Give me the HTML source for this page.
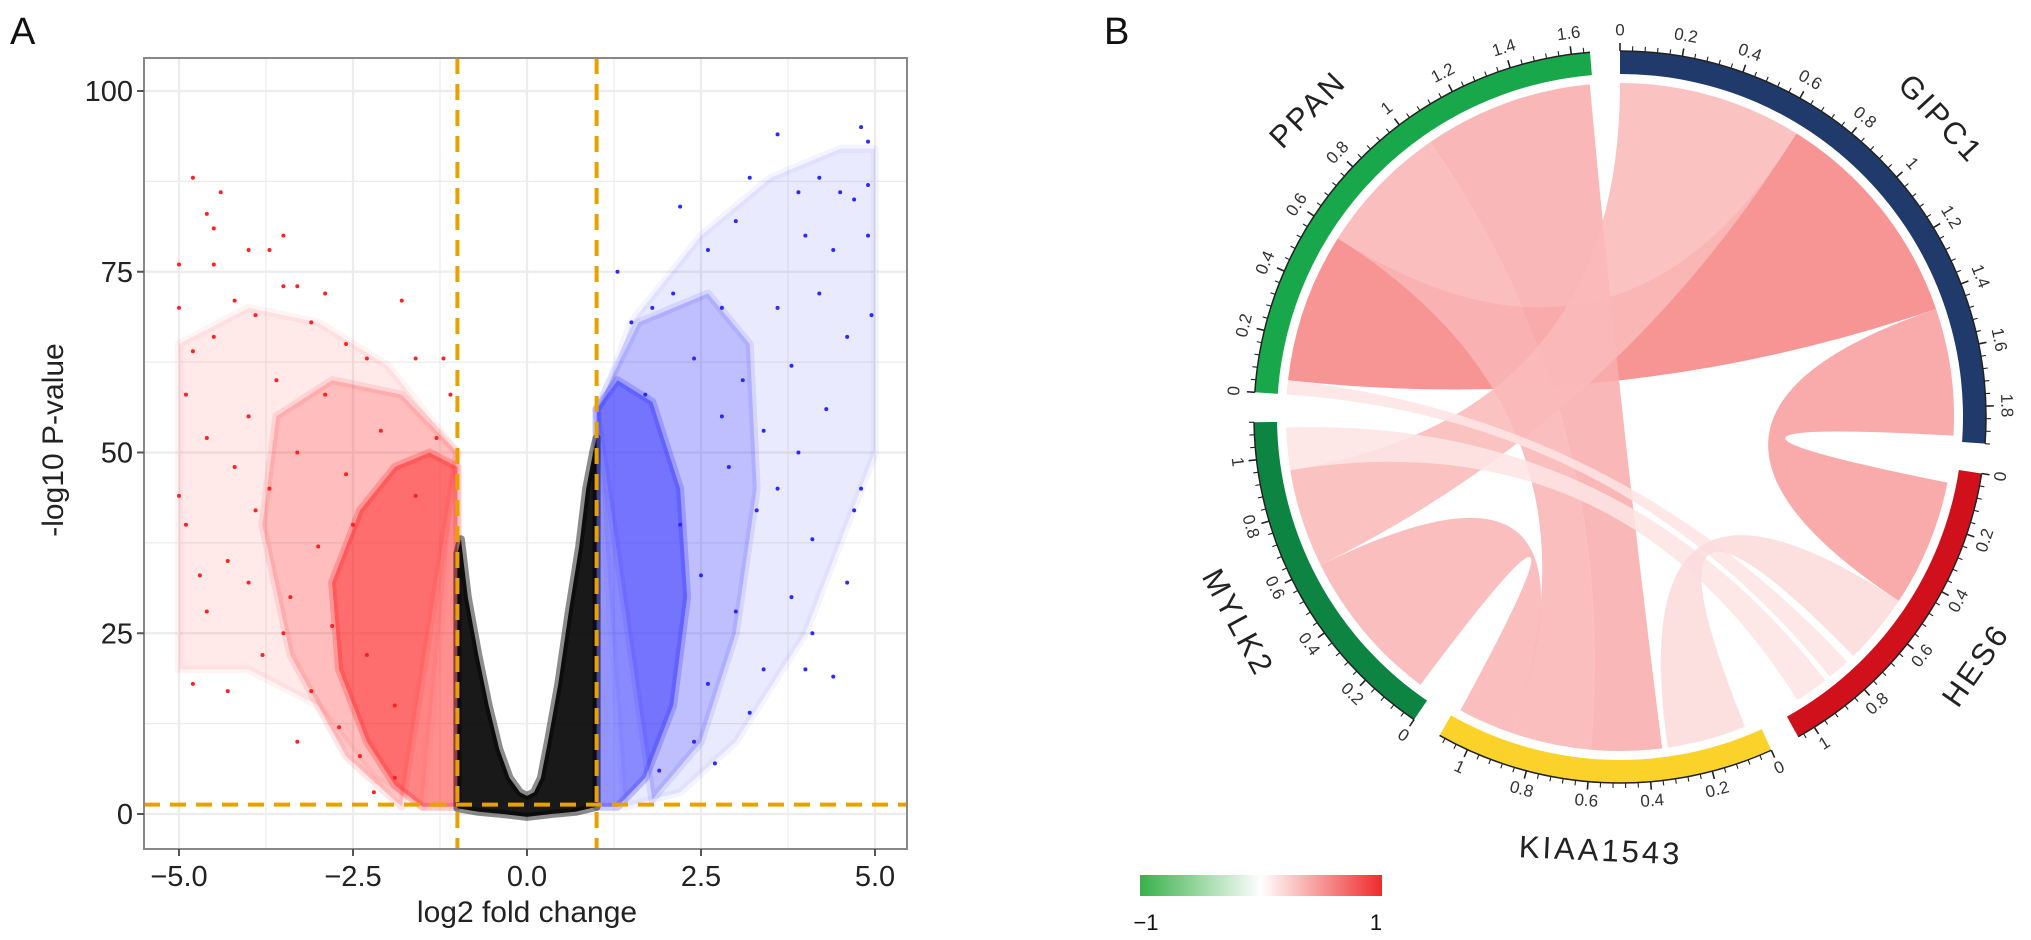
<!DOCTYPE html>
<html><head><meta charset="utf-8"><style>
html,body{margin:0;padding:0;background:#fff;}
svg{display:block;font-family:"Liberation Sans",Arial,sans-serif;}
</style></head><body>
<svg id="fig" width="2031" height="940" viewBox="0 0 2031 940" xmlns="http://www.w3.org/2000/svg">
  <text x="10" y="44" font-size="38" fill="#111">A</text>
  <text x="1104" y="44" font-size="38" fill="#111">B</text>
  <g id="volcano"></g>
  <g id="chord"></g>
  <g id="legend">
    <defs><linearGradient id="lg" x1="0" x2="1" y1="0" y2="0">
      <stop offset="0" stop-color="#38b04a"/><stop offset="0.5" stop-color="#ffffff"/><stop offset="1" stop-color="#ee2c2c"/>
    </linearGradient></defs>
    <rect x="1140" y="875" width="242" height="21" fill="url(#lg)"/>
    <text x="1146" y="930" font-size="22" text-anchor="middle" fill="#111">−1</text>
    <text x="1376" y="930" font-size="22" text-anchor="middle" fill="#111">1</text>
  </g>
</svg>
<script>
// ---------- Volcano data ----------
const xTicks = [-5.0, -2.5, 0.0, 2.5, 5.0];
const xTickLabels = ["−5.0", "−2.5", "0.0", "2.5", "5.0"];
const yTicks = [0, 25, 50, 75, 100];
const yTickLabels = ["0", "25", "50", "75", "100"];
const fcThreshold = 1;
const pThreshold = 1.3;
// envelope of the dense non-significant (black) cloud
const blackCloudX = [-1.0,-1.0,-0.95,-0.85,-0.7,-0.55,-0.4,-0.25,-0.1,0,0.1,0.2,0.3,0.45,0.6,0.75,0.85,0.95,1.0,1.0,0.7,0.35,0,-0.35,-0.7];
const blackCloudY = [0.8,36,38,30,22,15,9,5,3,2.5,3,5,10,18,28,37,45,50,52,1,0.3,0,-0.4,0,0.3];
// significant clusters (dense core, mid-density halo, sparse spread)
const redDenseX = [-1,-1,-1.4,-1.9,-2.4,-2.8,-2.7,-2.3,-1.9,-1.5];
const redDenseY = [1,48,50,48,42,32,20,10,4,1];
const redMidX = [-1,-1.8,-2.8,-3.6,-3.8,-3.4,-2.6,-1.8];
const redMidY = [50,58,60,55,40,22,8,1];
const redSparseX = [-1,-2,-3,-4,-5,-5,-4,-3,-2.2,-1.5];
const redSparseY = [50,62,68,70,65,20,20,15,5,1];
const blueDenseX = [1,1,1.3,1.8,2.2,2.3,2.1,1.7,1.3];
const blueDenseY = [1,56,60,57,45,30,15,5,1];
const blueMidX = [1,1.6,2.6,3.2,3.3,3.0,2.5,1.8];
const blueMidY = [56,68,72,65,45,25,10,2];
const blueSparseX = [1,1.5,2.5,3.5,4.5,5,5,4,3,2.2,1.4];
const blueSparseY = [55,68,80,88,92,92,50,25,10,3,1];
// scattered individual genes
const redX = [-4.8,-4.6,-4.4,-4.5,-5,-4.5,-4.0,-3.7,-3.5,-3.3,-3.5,-2.9,-1.8,-5,-4.2,-3.9,-3.1,-4.8,-4.5,-2.6,-2.3,-1.6,-1.2,-5,-4.9,-4.7,-4.3,-4.6,-3.5,-3.8,-4.8,-3.1,-4.3,-2.7,-3.3,-2.4,-1.9,-2.2,-4.9,-4.6,-4.2,-3.7,-3.3,-2.9,-2.1,-1.3,-1.1,-4.0,-3.6,-2.5,-3.0,-4.0,-3.4,-2.8,-2.3,-1.9,-1.6,-2.6,-3.9];
const redY = [88,83,86,81,76,76,78,78,80,73,73,72,71,70,71,69,68,64,66,65,63,63,63,44,40,33,35,28,25,22,18,17,17,12,10,8,5,3,58,52,48,45,50,58,53,52,58,55,60,40,37,32,30,26,22,15,44,47,42];
const blueX = [4.8,4.9,3.6,3.2,4.2,4.5,4.7,4.9,3.9,3.0,2.6,2.2,4.0,4.4,4.9,4.95,2.1,1.8,2.8,3.6,4.2,1.5,2.4,3.1,3.8,4.6,4.3,3.4,2.9,4.8,4.7,3.3,4.1,3.8,4.6,3.0,4.1,4.0,3.4,2.6,3.2,2.4,1.9,2.7,4.4,2.2,2.5,3.6,1.3,1.7,2.8,3.9];
const blueY = [95,93,94,88,88,86,85,87,86,82,78,84,80,78,80,69,72,70,70,70,72,68,63,60,62,66,56,53,48,45,42,42,38,30,32,28,25,20,20,18,14,10,6,7,19,40,33,45,75,58,55,50];

// ---------- Chord data ----------
const sectorNames = ["GIPC1","HES6","KIAA1543","MYLK2","PPAN"];
const sectorSizes = [1.92, 1.06, 1.10, 1.12, 1.66];
const sectorColors = ["#1f3a6b","#d0111b","#fad22a","#0e8443","#18a84b"];
const sectorTickMax = [1.8, 1.0, 1.0, 1.0, 1.6];
const chordFrom = ["PPAN","PPAN","PPAN","GIPC1","GIPC1","PPAN","MYLK2","MYLK2","HES6"];
const chordFromStart = [0.05,0.58,1.05,0.0,1.45,0.0,0.95,0.05,0.5];
const chordFromEnd = [0.58,1.05,1.65,0.65,1.90,0.05,1.10,0.60,0.75];
const chordTo = ["GIPC1","KIAA1543","KIAA1543","MYLK2","HES6","HES6","HES6","KIAA1543","KIAA1543"];
const chordToStart = [0.65,0.60,0.35,0.60,0.05,0.78,0.88,0.88,0.05];
const chordToEnd = [1.45,0.88,0.60,0.95,0.50,0.86,1.00,1.08,0.33];
const chordValue = [0.62,0.38,0.42,0.36,0.5,0.14,0.14,0.38,0.18];

const NS = "http://www.w3.org/2000/svg";
function mk(tag, attrs, parent){const e=document.createElementNS(NS,tag);for(const k in attrs)e.setAttribute(k,attrs[k]);parent.appendChild(e);return e;}

// ---------- Volcano ----------
(function(){
  const g = document.getElementById('volcano');
  const L=144,T=58,R=907,B=849;
  const sx = v => 527 + v*69.6;
  const sy = v => 814 - v*7.23;
  const bg = mk('rect',{x:L,y:T,width:R-L,height:B-T,fill:'#fff'},g);
  
  
  for(let v=-6.25; v<=6.25; v+=1.25){const x=sx(v); if(x<=L||x>=R) continue;
    const ln=mk('line',{x1:x,x2:x,y1:T,y2:B,stroke:'#ececec','stroke-width':(Math.abs(v/2.5-Math.round(v/2.5))<1e-6)?2.2:1.2},g);
    
    }
  for(let v=-12.5; v<=112.5; v+=12.5){const y=sy(v); if(y<=T||y>=B) continue;
    const ln=mk('line',{x1:L,x2:R,y1:y,y2:y,stroke:'#ececec','stroke-width':(Math.abs(v%25)<1e-6)?2.2:1.2},g);
    
    }
  function poly(xs,ys,fill,op,name){
    const pts=xs.map((x,i)=>sx(x).toFixed(1)+','+sy(ys[i]).toFixed(1)).join(' ');
    const p=mk('polygon',{points:pts,fill:fill,'fill-opacity':op,stroke:fill,'stroke-opacity':op*0.5,'stroke-width':8,'stroke-linejoin':'round'},g);
    
    
  }
  poly(redSparseX,redSparseY,'#ff2a2a',0.1,'down-regulated-sparse-cloud');
  poly(blueSparseX,blueSparseY,'#3030ff',0.1,'up-regulated-sparse-cloud');
  poly(redMidX,redMidY,'#ff2020',0.22,'down-regulated-mid-cloud');
  poly(blueMidX,blueMidY,'#2a2aff',0.22,'up-regulated-mid-cloud');
  poly(redDenseX,redDenseY,'#ff2020',0.5,'down-regulated-dense-cloud');
  poly(blueDenseX,blueDenseY,'#2a2aff',0.5,'up-regulated-dense-cloud');
  poly(blackCloudX,blackCloudY,'#000',0.9,'non-significant-cloud');
  redX.forEach((x,i)=>{const c=mk('circle',{cx:sx(x),cy:sy(redY[i]),r:2,fill:'#ff2020'},g);
    
    });
  blueX.forEach((x,i)=>{const c=mk('circle',{cx:sx(x),cy:sy(blueY[i]),r:2,fill:'#2a2aff'},g);
    
    });
  [-fcThreshold,fcThreshold].forEach(v=>{const ln=mk('line',{x1:sx(v),x2:sx(v),y1:T,y2:B,stroke:'#e8a200','stroke-width':4,'stroke-dasharray':'16 10'},g);
    
    });
  const hl=mk('line',{x1:L,x2:R,y1:sy(pThreshold),y2:sy(pThreshold),stroke:'#e8a200','stroke-width':4,'stroke-dasharray':'16 10'},g);
  
  
  const br=mk('rect',{x:L,y:T,width:R-L,height:B-T,fill:'none',stroke:'#888','stroke-width':2},g);
  
  
  xTicks.forEach((v,i)=>{const x=sx(v);
    const t=mk('line',{x1:x,x2:x,y1:B,y2:B+7,stroke:'#555','stroke-width':2},g);
    
    
    const tx=mk('text',{x:x,y:B+37,'font-size':29,'text-anchor':'middle',fill:'#222'},g);
    tx.textContent=xTickLabels[i];
    
    });
  yTicks.forEach((v,i)=>{const y=sy(v);
    const t=mk('line',{x1:L-7,x2:L,y1:y,y2:y,stroke:'#555','stroke-width':2},g);
    
    
    const tx=mk('text',{x:L-11,y:y+10,'font-size':29,'text-anchor':'end',fill:'#222'},g);
    tx.textContent=yTickLabels[i];
    
    });
  const xt=mk('text',{x:527,y:922,'font-size':30,'text-anchor':'middle',fill:'#222'},g);
  xt.textContent='log2 fold change';
  
  
  const yt=mk('text',{x:0,y:0,'font-size':30,'text-anchor':'middle',fill:'#222',transform:'translate(63,440) rotate(-90)'},g);
  yt.textContent='-log10 P-value';
  
  
})();

// ---------- Chord ----------
(function(){
  const g=document.getElementById('chord');
  const cx=1620, cy=417, Ro=366, Ri=343, Rc=334, gap=4.7;
  const total=sectorSizes.reduce((a,b)=>a+b,0);
  const dpu=(360-gap*sectorNames.length)/total;
  const starts=[]; let a=0;
  sectorSizes.forEach((s,i)=>{starts.push(a); a+=s*dpu+gap;});
  const ang=(name,v)=>{const i=sectorNames.indexOf(name);return starts[i]+v*dpu;};
  const pt=(deg,r)=>{const t=deg*Math.PI/180;return [cx+r*Math.sin(t), cy-r*Math.cos(t)];};
  const f=p=>p[0].toFixed(2)+' '+p[1].toFixed(2);
  function col(v){const r=Math.round(255-(255-240)*v),gg=Math.round(255-(255-60)*v),b=Math.round(255-(255-60)*v);return `rgb(${r},${gg},${b})`;}
  chordFrom.forEach((fs,i)=>{
    const a1=ang(fs,chordFromStart[i]),a2=ang(fs,chordFromEnd[i]);
    const b1=ang(chordTo[i],chordToStart[i]),b2=ang(chordTo[i],chordToEnd[i]);
    const la=(a2-a1)>180?1:0, lb=(b2-b1)>180?1:0;
    const d=`M${f(pt(a1,Rc))} A${Rc} ${Rc} 0 ${la} 1 ${f(pt(a2,Rc))} Q${cx} ${cy} ${f(pt(b1,Rc))} A${Rc} ${Rc} 0 ${lb} 1 ${f(pt(b2,Rc))} Q${cx} ${cy} ${f(pt(a1,Rc))} Z`;
    const p=mk('path',{d:d,fill:col(chordValue[i]),'fill-opacity':0.88},g);
    
    
  });
  sectorNames.forEach((n,i)=>{
    const s=starts[i], e=s+sectorSizes[i]*dpu;
    const large=(e-s)>180?1:0;
    const d=`M${f(pt(s,Ro))} A${Ro} ${Ro} 0 ${large} 1 ${f(pt(e,Ro))} L${f(pt(e,Ri))} A${Ri} ${Ri} 0 ${large} 0 ${f(pt(s,Ri))} Z`;
    const p=mk('path',{d:d,fill:sectorColors[i]},g);
    
    
    const base=mk('path',{d:`M${f(pt(s,Ro))} A${Ro} ${Ro} 0 ${large} 1 ${f(pt(e,Ro))}`,fill:'none',stroke:'#222','stroke-width':1.5},g);
    
    
    const nMinor=Math.floor(sectorSizes[i]/0.04+1e-6);
    for(let k=0;k<=nMinor;k++){
      const v=k*0.04; const major=(k%5===0);
      const A=s+v*dpu;
      const p1=pt(A,Ro),p2=pt(A,Ro+(major?8:5));
      const t=mk('line',{x1:p1[0],y1:p1[1],x2:p2[0],y2:p2[1],stroke:'#222','stroke-width':major?1.6:1.1},g);
      
      
      if(major && v<=sectorTickMax[i]+1e-6){
        const lp=pt(A,Ro+20);
        let rot=A; if(A>90&&A<270) rot=A-180;
        const lab=(Math.round(v*10)/10).toString();
        const tx=mk('text',{x:0,y:0,'font-size':17,'text-anchor':'middle','dominant-baseline':'middle',fill:'#333',transform:`translate(${lp[0].toFixed(1)},${lp[1].toFixed(1)}) rotate(${rot.toFixed(1)})`},g);
        tx.textContent=lab;
        
        
      }
    }
    const mid=(s+e)/2; const np=pt(mid,436);
    let rot=mid; if(mid>90&&mid<270) rot=mid-180;
    const nt=mk('text',{x:0,y:0,'font-size':31,'text-anchor':'middle','dominant-baseline':'middle','letter-spacing':'3',fill:'#222',transform:`translate(${np[0].toFixed(1)},${np[1].toFixed(1)}) rotate(${rot.toFixed(1)})`},g);
    nt.textContent=n;
    
    
  });
})();
</script>
</body></html>
